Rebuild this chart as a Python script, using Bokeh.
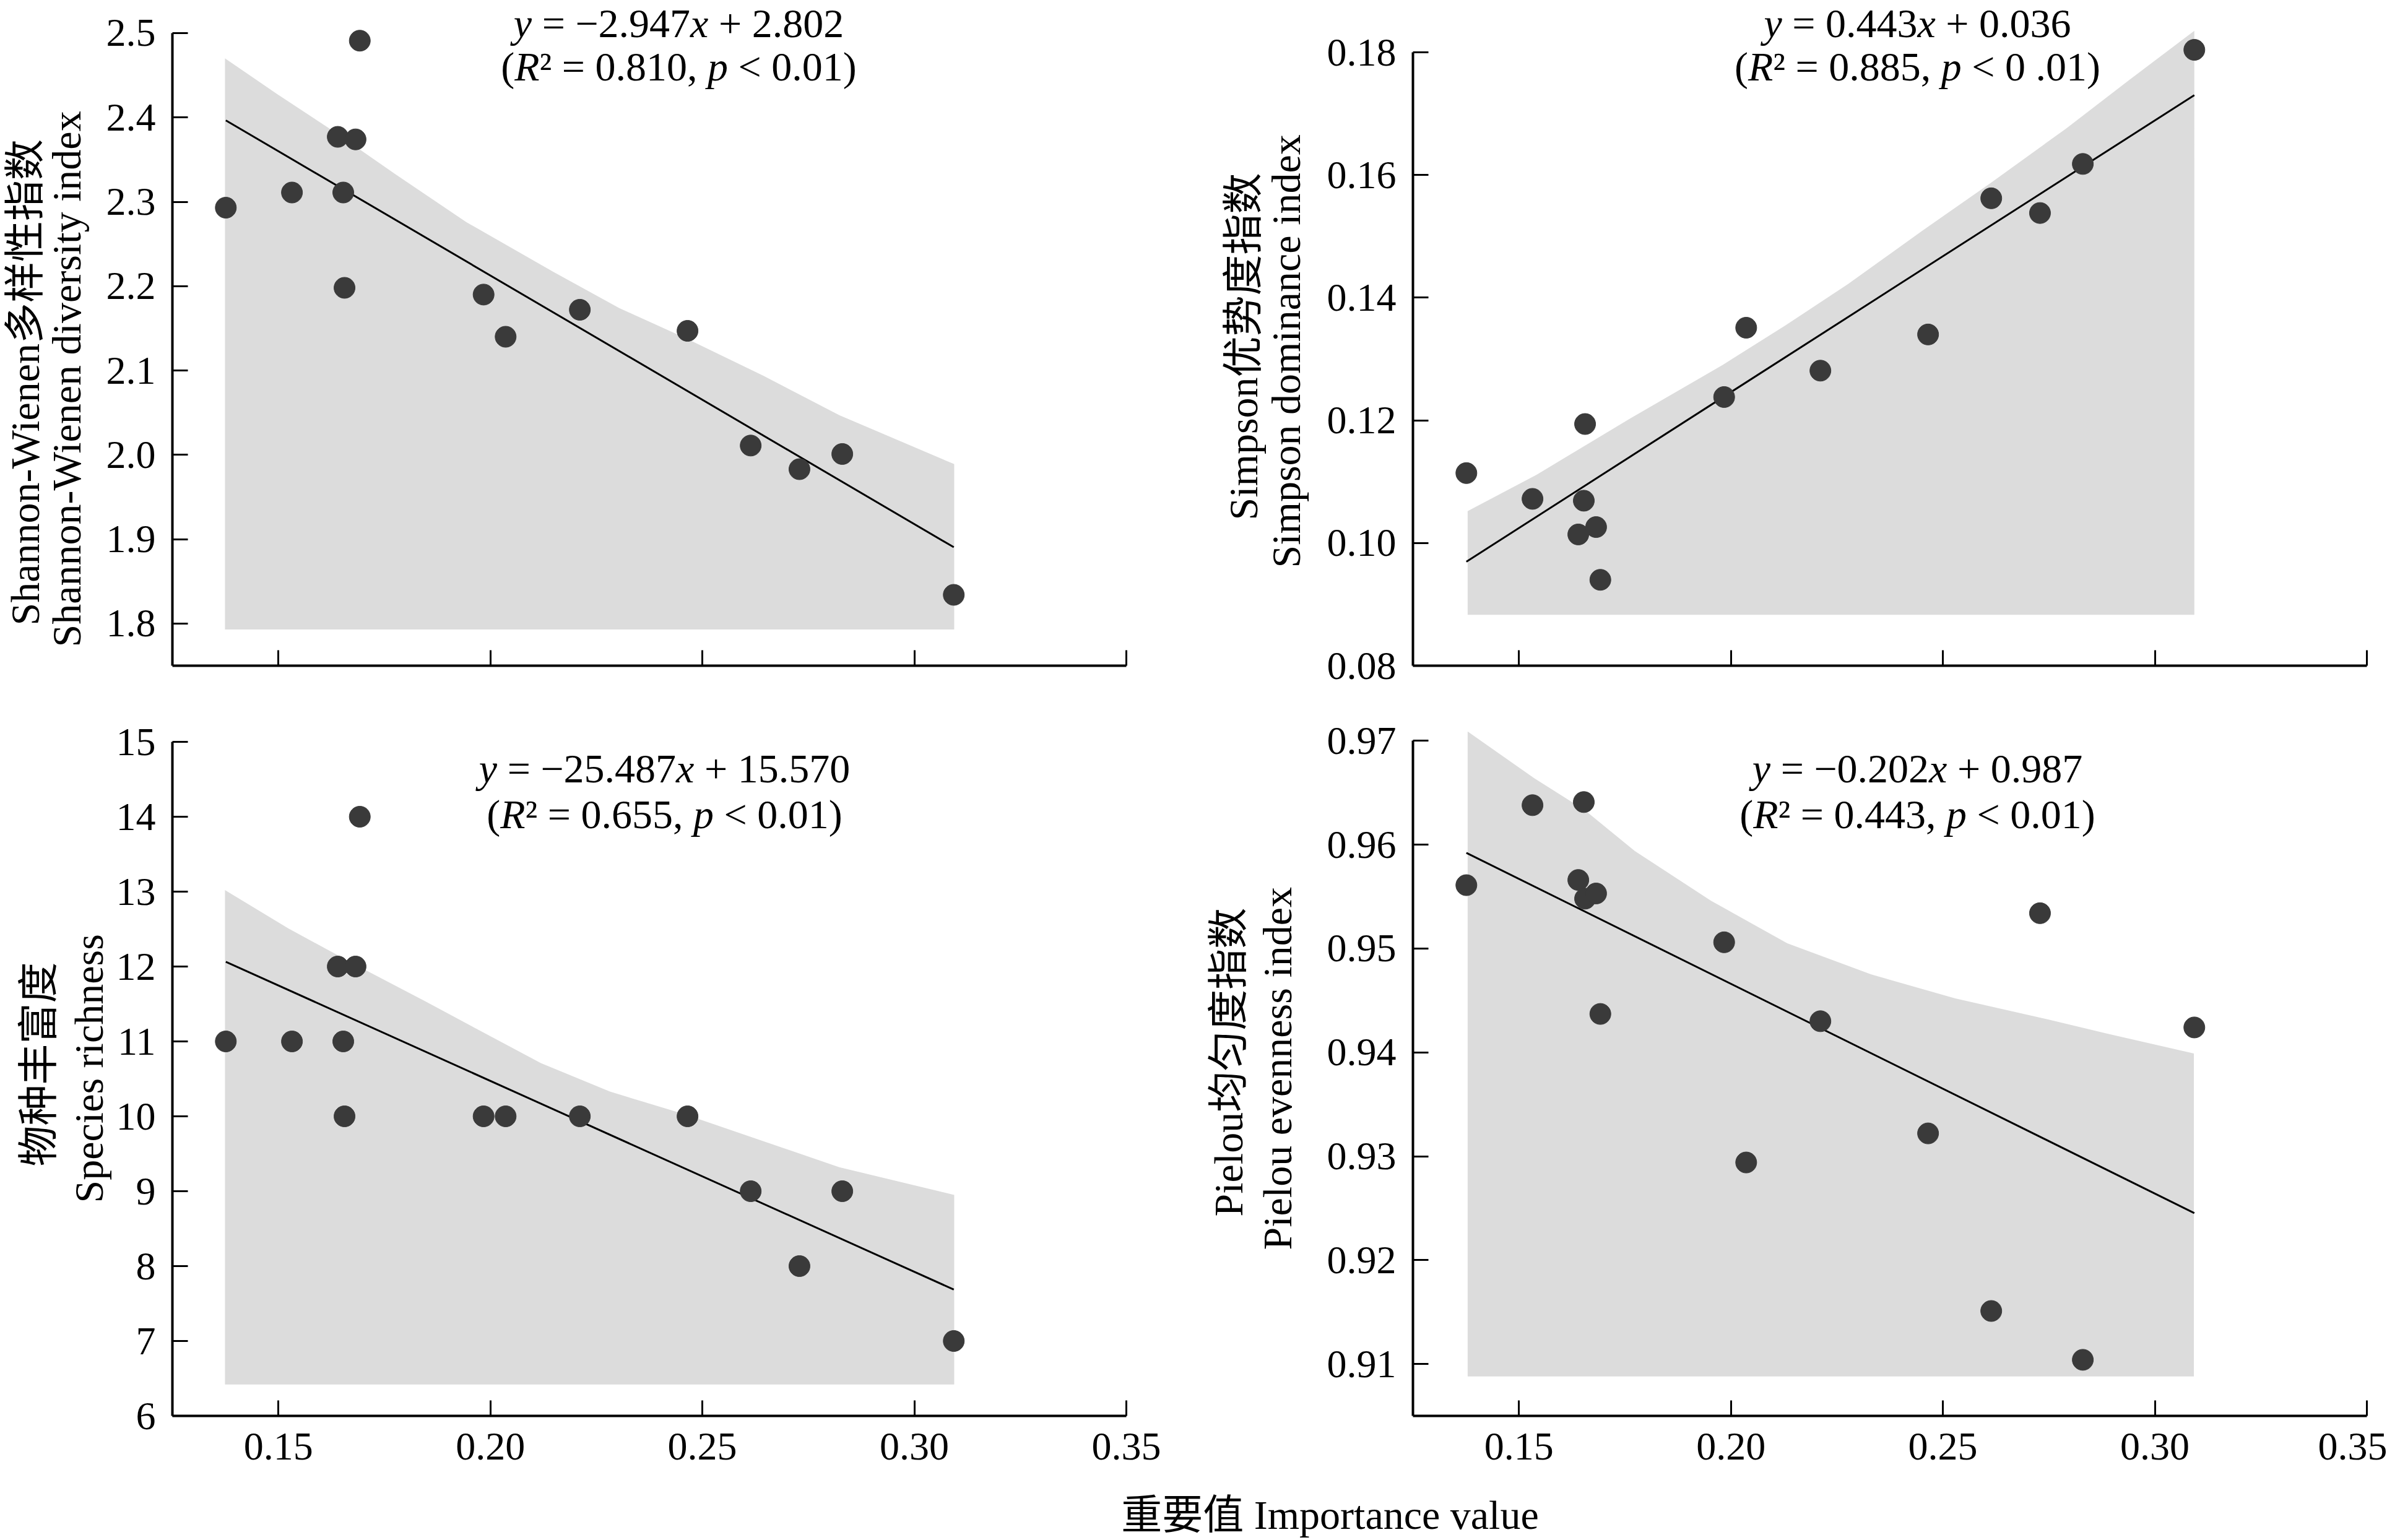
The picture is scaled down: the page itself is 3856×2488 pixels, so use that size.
import math
from bokeh.plotting import figure
from bokeh.layouts import column, row
from bokeh.models import Label, FixedTicker, Range1d
from bokeh.embed import file_html
from bokeh.resources import INLINE

# ---------------- data ----------------
importance = [0.1376, 0.1532, 0.1640, 0.1653, 0.1656, 0.1682, 0.1692, 0.1984,
              0.2036, 0.2211, 0.2465, 0.2614, 0.2729, 0.2830, 0.3093]
shannon = [2.293, 2.311, 2.377, 2.311, 2.198, 2.374, 2.491, 2.190,
           2.140, 2.172, 2.147, 2.011, 1.983, 2.001, 1.834]
simpson = [0.1114, 0.1072, 0.1014, 0.1069, 0.1194, 0.1026, 0.0940, 0.1238,
           0.1351, 0.1281, 0.1340, 0.1562, 0.1538, 0.1618, 0.1804]
richness = [11, 11, 12, 11, 10, 12, 14, 10, 10, 10, 10, 9, 8, 9, 7]
pielou = [0.9561, 0.9638, 0.9566, 0.9641, 0.9548, 0.9553, 0.9437, 0.9506,
          0.9294, 0.9430, 0.9322, 0.9151, 0.9534, 0.9104, 0.9424]

# grey bands (upper edge, flat lower edge)
band_x_shannon = [0.1374, 0.1496, 0.1635, 0.1775, 0.1943, 0.2148, 0.2304, 0.2462, 0.2643, 0.2823, 0.3094]
band_hi_shannon = [2.470, 2.428, 2.382, 2.333, 2.276, 2.217, 2.174, 2.138, 2.094, 2.047, 1.989]
band_lo_shannon = 1.793
band_x_simpson = [0.1379, 0.1541, 0.1762, 0.1982, 0.2129, 0.2276, 0.2453, 0.2615, 0.2791, 0.2938, 0.3093]
band_hi_simpson = [0.1052, 0.1111, 0.1203, 0.1291, 0.1355, 0.1422, 0.1510, 0.1588, 0.1676, 0.1754, 0.1835]
band_lo_simpson = 0.0883
band_x_richness = [0.1374, 0.1523, 0.1686, 0.1848, 0.1993, 0.2119, 0.2282, 0.2462, 0.2643, 0.2823, 0.3094]
band_hi_richness = [13.02, 12.51, 12.01, 11.53, 11.09, 10.71, 10.33, 10.02, 9.67, 9.32, 8.95]
band_lo_richness = 6.42
band_x_pielou = [0.1379, 0.1536, 0.1656, 0.1773, 0.1953, 0.2133, 0.2331, 0.2529, 0.2745, 0.2888, 0.3092]
band_hi_pielou = [0.9709, 0.9664, 0.9633, 0.9594, 0.9546, 0.9505, 0.9475, 0.9452, 0.9432, 0.9418, 0.9399]
band_lo_pielou = 0.9088

# regression equations shown on the chart
slopes = [-2.947, 0.443, -25.487, -0.202]
intercepts = [2.802, 0.036, 15.570, 0.987]
r2_text = ["0.810", "0.885", "0.655", "0.443"]
p_text = ["0.01", "0 .01", "0.01", "0.01"]

# ticks
x_ticks = [0.15, 0.20, 0.25, 0.30, 0.35]
x_tick_labels = ["0.15", "0.20", "0.25", "0.30", "0.35"]
shannon_ticks = [1.8, 1.9, 2.0, 2.1, 2.2, 2.3, 2.4, 2.5]
shannon_tick_labels = ["1.8", "1.9", "2.0", "2.1", "2.2", "2.3", "2.4", "2.5"]
simpson_ticks = [0.08, 0.10, 0.12, 0.14, 0.16, 0.18]
simpson_tick_labels = ["0.08", "0.10", "0.12", "0.14", "0.16", "0.18"]
richness_ticks = [6, 7, 8, 9, 10, 11, 12, 13, 14, 15]
richness_tick_labels = ["6", "7", "8", "9", "10", "11", "12", "13", "14", "15"]
pielou_ticks = [0.91, 0.92, 0.93, 0.94, 0.95, 0.96, 0.97]
pielou_tick_labels = ["0.91", "0.92", "0.93", "0.94", "0.95", "0.96", "0.97"]

ylabels_cn = ["Shannon-Wienen多样性指数", "Simpson优势度指数", "物种丰富度", "Pielou均匀度指数"]
ylabels_en = ["Shannon-Wienen diversity index", "Simpson dominance index", "Species richness", "Pielou evenness index"]
xlabel = "重要值 Importance value"

# ---------------- layout (page pixels; the Bokeh page has no margin) ----------------
WIN_W, WIN_H = 3856, 2488
X_START, X_END = 0.125, 0.35
FRAME_W = 1541
PPU_X = FRAME_W / (X_END - X_START)

LAB_W = [150, 182]              # left label strip width, top / bottom row
LAB2_X, LAB2_W = 1890, 242      # right label strip
FL_LEFT, FL_RIGHT = 278, 2282   # frame left edges
MBR_LEFT = LAB2_X - FL_LEFT - FRAME_W
MBR_RIGHT = WIN_W - FL_RIGHT - FRAME_W

TOP_FB = 1075                   # top-row x-axis
BOT_FT, BOT_FB = 1135, 2287     # bottom-row frame top / x-axis
TOP_H = BOT_FT
BOT_MBB = 125
BOT_H = BOT_FB - BOT_FT + BOT_MBB
XFIG_H = WIN_H - TOP_H - BOT_H

frame_left = [FL_LEFT, FL_RIGHT, FL_LEFT, FL_RIGHT]
frame_top = [0, 0, BOT_FT, BOT_FT]
frame_bottom = [TOP_FB, TOP_FB, BOT_FB, BOT_FB]
y_start = [1.75, 0.08, 6.0, 0.905]
ppu_y = [1362.7, 9910.0, 121.0, 16780.0]

FONT = "Liberation Serif"
FONT_MIX = "Liberation Serif, Noto Sans CJK SC"
FS = 66
TICK_FS = "64px"

REG = {' ': 250, '.': 250, ',': 250, '=': 564, '+': 564, '−': 564, '<': 564,
       '(': 333, ')': 333, '²': 300}
for d in "0123456789":
    REG[d] = 500
ITA = {'y': 444, 'x': 444, 'R': 611, 'p': 500}
SPACE_W = 250 * FS / 1000.0


def twidth(s, italic):
    tab = ITA if italic else REG
    return sum(tab[c] for c in s) * FS / 1000.0


# text placement: equation centre x, vertical centres of the two lines,
# y-title lines: (x centre, bottom end of the rotated text)
panels = [
    dict(y=shannon, bx=band_x_shannon, bh=band_hi_shannon, bl=band_lo_shannon,
         ticks=shannon_ticks, labels=shannon_tick_labels,
         eq_c=1096, eq_m=(37, 107), yl=((40, 1010), (107, 1045))),
    dict(y=simpson, bx=band_x_simpson, bh=band_hi_simpson, bl=band_lo_simpson,
         ticks=simpson_ticks, labels=simpson_tick_labels,
         eq_c=3097, eq_m=(37, 107), yl=((2008, 840), (2077, 917))),
    dict(y=richness, bx=band_x_richness, bh=band_hi_richness, bl=band_lo_richness,
         ticks=richness_ticks, labels=richness_tick_labels,
         eq_c=1073, eq_m=(1241, 1315), yl=((62, 1884), (143, 1943))),
    dict(y=pielou, bx=band_x_pielou, bh=band_hi_pielou, bl=band_lo_pielou,
         ticks=pielou_ticks, labels=pielou_tick_labels,
         eq_c=3097, eq_m=(1241, 1315), yl=((1984, 1965), (2063, 2019))),
]


def style_blank(f):
    f.xaxis.visible = False
    f.yaxis.visible = False
    f.grid.visible = False
    f.outline_line_color = None
    f.border_fill_color = "white"
    f.background_fill_color = "white"
    return f


def make_label_fig(i):
    # a strip that shares the row's frame (top/bottom borders) with its panel
    left = (i % 2 == 0)
    top = (i < 2)
    w = LAB_W[0 if top else 1] if left else LAB2_W
    h = TOP_H if top else BOT_H
    ft, fb = frame_top[i], frame_bottom[i]
    x0 = 0 if left else LAB2_X
    f = figure(width=w, height=h, x_range=Range1d(0, w), y_range=Range1d(0, fb - ft),
               output_backend="svg", toolbar_location=None, title=None,
               min_border_left=0, min_border_right=0, min_border_top=0,
               min_border_bottom=h - (fb - ft))
    style_blank(f)
    for txt, (cx, by) in zip((ylabels_cn[i], ylabels_en[i]), panels[i]["yl"]):
        f.add_layout(Label(x=cx - x0, y=fb - by, text=txt,
                           angle=math.pi / 2, text_font=FONT_MIX,
                           text_font_size="%dpx" % FS, text_align="left",
                           text_baseline="middle", text_color="black"))
    return f


def make_panel(i):
    pn = panels[i]
    left = (i % 2 == 0)
    top = (i < 2)
    fb, ft, fl = frame_bottom[i], frame_top[i], frame_left[i]
    y0 = y_start[i]
    y1 = y0 + (fb - ft) / ppu_y[i]
    canvas_left = (LAB_W[0 if top else 1]) if left else (LAB2_X + LAB2_W)
    mbl = fl - canvas_left
    mbr = MBR_LEFT if left else MBR_RIGHT
    width = mbl + FRAME_W + mbr
    height = TOP_H if top else BOT_H
    mbb = height - (fb - ft)

    def px2x(px):
        return X_START + (px - fl) / PPU_X

    def px2y(py):
        return y0 + (fb - py) / ppu_y[i]

    p = figure(width=width, height=height,
               x_range=Range1d(X_START, X_END), y_range=Range1d(y0, y1),
               output_backend="svg", toolbar_location=None, title=None,
               min_border_left=mbl, min_border_right=mbr,
               min_border_top=0, min_border_bottom=mbb)
    p.outline_line_color = None
    p.grid.visible = False
    p.background_fill_color = "white"
    p.border_fill_color = "white"

    for ax in (p.xaxis[0], p.yaxis[0]):
        ax.axis_line_width = 4
        ax.axis_line_color = "black"
        ax.major_tick_line_width = 3
        ax.major_tick_line_color = "black"
        ax.major_tick_in = 25
        ax.major_tick_out = 0
        ax.minor_tick_line_color = None
        ax.major_label_text_font = FONT
        ax.major_label_text_font_size = TICK_FS
        ax.major_label_text_color = "black"
    p.xaxis[0].ticker = FixedTicker(ticks=x_ticks)
    p.xaxis[0].bounds = (X_START, X_END)
    if top:
        # the upper panels carry ticks but no x tick labels
        p.xaxis[0].major_label_text_color = None
        p.xaxis[0].major_label_text_font_size = "1px"
        p.xaxis[0].major_label_standoff = 0
    else:
        p.xaxis[0].major_label_overrides = dict(zip(x_ticks, x_tick_labels))
        p.xaxis[0].major_label_standoff = 28
    p.yaxis[0].ticker = FixedTicker(ticks=pn["ticks"])
    p.yaxis[0].major_label_overrides = dict(zip(pn["ticks"], pn["labels"]))
    p.yaxis[0].bounds = (y0, pn["ticks"][-1])
    p.yaxis[0].major_label_standoff = 27

    # band, fit line, points
    p.varea(x=pn["bx"], y1=[pn["bl"]] * len(pn["bx"]), y2=pn["bh"],
            fill_color="#dcdcdc", fill_alpha=1.0)
    xs = [min(importance), max(importance)]
    p.line(xs, [slopes[i] * v + intercepts[i] for v in xs], line_color="black", line_width=3)
    p.scatter(importance, pn["y"], size=34, fill_color="#3a3a3a", line_color="#3a3a3a")

    # equation text (mixed italic / roman)
    s, b = slopes[i], intercepts[i]
    sign = "−" if s < 0 else ""
    line1 = [("y", True), (" = %s%.3f" % (sign, abs(s)), False), ("x", True), (" + %.3f" % b, False)]
    line2 = [("(", False), ("R", True), ("² = %s, " % r2_text[i], False), ("p", True),
             (" < %s)" % p_text[i], False)]
    for pieces, mid in zip((line1, line2), pn["eq_m"]):
        total = sum(twidth(t, it) for t, it in pieces)
        cur = pn["eq_c"] - total / 2.0
        for t, it in pieces:
            core = t.strip(" ")
            lead = len(t) - len(t.lstrip(" "))
            p.add_layout(Label(x=px2x(cur + lead * SPACE_W), y=px2y(mid), text=core,
                               text_font=FONT, text_font_size="%dpx" % FS,
                               text_font_style="italic" if it else "normal",
                               text_align="left", text_baseline="middle",
                               text_color="black"))
            cur += twidth(t, it)
    return p


figs = [make_panel(i) for i in range(4)]
labs = [make_label_fig(i) for i in range(4)]

xfig = figure(width=WIN_W, height=XFIG_H, x_range=Range1d(0, WIN_W), y_range=Range1d(0, XFIG_H),
              output_backend="svg", toolbar_location=None, title=None,
              min_border_left=0, min_border_right=0, min_border_top=0, min_border_bottom=0)
style_blank(xfig)
xfig_top = TOP_H + BOT_H
xfig.add_layout(Label(x=2148, y=XFIG_H - (2447 - xfig_top), text=xlabel,
                      text_font=FONT_MIX, text_font_size="%dpx" % FS,
                      text_align="center", text_baseline="middle", text_color="black"))

layout = column(row(labs[0], figs[0], labs[1], figs[1]),
                row(labs[2], figs[2], labs[3], figs[3]),
                xfig)
open("out.html", "w").write(file_html(layout, INLINE))
